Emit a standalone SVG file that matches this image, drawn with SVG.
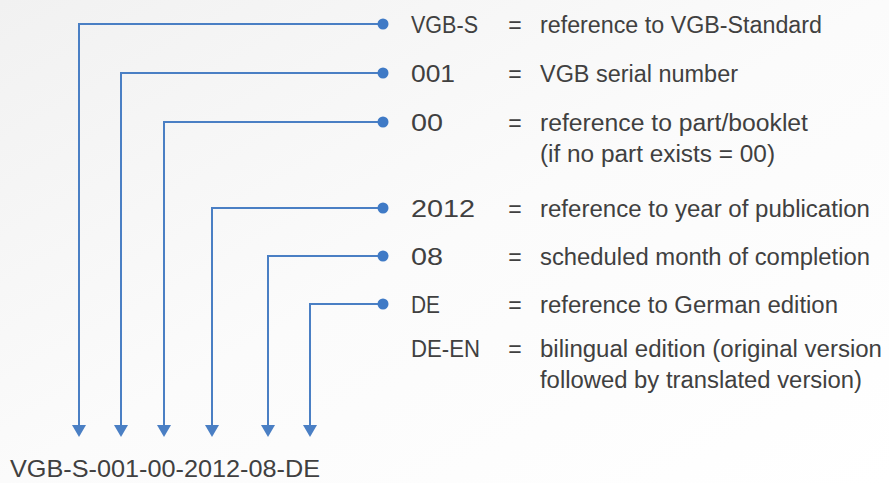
<svg xmlns="http://www.w3.org/2000/svg" width="889" height="483" viewBox="0 0 889 483">
  <defs>
    <linearGradient id="bg" x1="0" y1="0" x2="1" y2="1">
      <stop offset="0" stop-color="#f1f1f1"/>
      <stop offset="0.5" stop-color="#fbfbfb"/>
      <stop offset="1" stop-color="#ffffff"/>
    </linearGradient>
    <marker id="arrow" markerUnits="userSpaceOnUse" markerWidth="14" markerHeight="16" refX="1" refY="8" orient="auto">
      <path d="M0,1 L12,8 L0,15 z" fill="#4a7fc4"/>
    </marker>
  </defs>
  <style>
    .wire { fill: none; stroke: #4a7fc4; stroke-width: 2; }
    .dot { fill: #3f7ac6; }
    text { font-family: "Liberation Sans", Arial, sans-serif; fill: #404040; font-size: 23px; }
    .eq { text-anchor: middle; }
    .code { font-size: 24px; }
  </style>
  <rect width="889" height="483" fill="url(#bg)"/>

  <g id="connectors">
    <path class="wire" d="M383,24 H79 V426" marker-end="url(#arrow)"/>
    <path class="wire" d="M383,73 H121 V426" marker-end="url(#arrow)"/>
    <path class="wire" d="M383,122 H164 V426" marker-end="url(#arrow)"/>
    <path class="wire" d="M383,208 H212 V426" marker-end="url(#arrow)"/>
    <path class="wire" d="M383,256 H268 V426" marker-end="url(#arrow)"/>
    <path class="wire" d="M383,304 H310 V426" marker-end="url(#arrow)"/>
  </g>

  <g id="node-vgbs">
    <circle class="dot" cx="383" cy="24" r="5.5"/>
    <text x="411" y="33" textLength="67" lengthAdjust="spacingAndGlyphs">VGB-S</text>
    <text class="eq" x="515" y="33">=</text>
    <text x="540" y="33" textLength="282" lengthAdjust="spacingAndGlyphs">reference to VGB-Standard</text>
  </g>
  <g id="node-001">
    <circle class="dot" cx="383" cy="73" r="5.5"/>
    <text x="411" y="82" textLength="44" lengthAdjust="spacingAndGlyphs">001</text>
    <text class="eq" x="515" y="82">=</text>
    <text x="540" y="82" textLength="198" lengthAdjust="spacingAndGlyphs">VGB serial number</text>
  </g>
  <g id="node-00">
    <circle class="dot" cx="383" cy="122" r="5.5"/>
    <text x="411" y="131" textLength="32" lengthAdjust="spacingAndGlyphs">00</text>
    <text class="eq" x="515" y="131">=</text>
    <text x="540" y="131" textLength="268" lengthAdjust="spacingAndGlyphs">reference to part/booklet</text>
    <text x="540" y="162" textLength="235" lengthAdjust="spacingAndGlyphs">(if no part exists = 00)</text>
  </g>
  <g id="node-2012">
    <circle class="dot" cx="383" cy="208" r="5.5"/>
    <text x="411" y="217" textLength="64" lengthAdjust="spacingAndGlyphs">2012</text>
    <text class="eq" x="515" y="217">=</text>
    <text x="540" y="217" textLength="330" lengthAdjust="spacingAndGlyphs">reference to year of publication</text>
  </g>
  <g id="node-08">
    <circle class="dot" cx="383" cy="256" r="5.5"/>
    <text x="411" y="265" textLength="32" lengthAdjust="spacingAndGlyphs">08</text>
    <text class="eq" x="515" y="265">=</text>
    <text x="540" y="265" textLength="330" lengthAdjust="spacingAndGlyphs">scheduled month of completion</text>
  </g>
  <g id="node-de">
    <circle class="dot" cx="383" cy="304" r="5.5"/>
    <text x="411" y="313" textLength="29" lengthAdjust="spacingAndGlyphs">DE</text>
    <text class="eq" x="515" y="313">=</text>
    <text x="540" y="313" textLength="298" lengthAdjust="spacingAndGlyphs">reference to German edition</text>
  </g>
  <g id="node-deen">
    <text x="411" y="357" textLength="69" lengthAdjust="spacingAndGlyphs">DE-EN</text>
    <text class="eq" x="515" y="357">=</text>
    <text x="540" y="357" textLength="342" lengthAdjust="spacingAndGlyphs">bilingual edition (original version</text>
    <text x="540" y="388" textLength="322" lengthAdjust="spacingAndGlyphs">followed by translated version)</text>
  </g>
  <g id="node-code">
    <text class="code" x="10" y="477" textLength="310" lengthAdjust="spacingAndGlyphs">VGB-S-001-00-2012-08-DE</text>
  </g>
</svg>
